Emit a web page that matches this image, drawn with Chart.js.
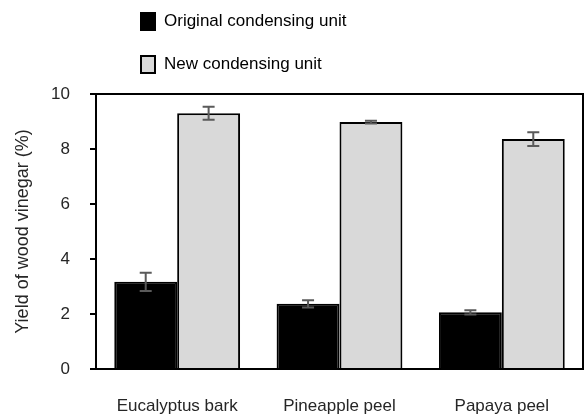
<!DOCTYPE html>
<html>
<head>
<meta charset="utf-8">
<script src="https://cdn.jsdelivr.net/npm/chart.js@4"></script>
<style>
  html, body { margin: 0; padding: 0; background: #fff; }
  #wrap { position: relative; width: 586px; height: 420px; }
  #legend { position: absolute; left: 140px; top: 9px; font-family: "Liberation Sans", Arial, sans-serif; font-size: 17px; color: #000; }
  .item { display: flex; align-items: center; height: 24px; margin-bottom: 19px; }
  .sw { width: 12px; height: 15px; border: 2px solid #000; margin-right: 8px; box-sizing: content-box; }
</style>
</head>
<body>
<div id="wrap">
  <canvas id="c" width="586" height="420"></canvas>
  <div id="legend"></div>
</div>
<script>
const categories = ["Eucalyptus bark", "Pineapple peel", "Papaya peel"];
const seriesNames = ["Original condensing unit", "New condensing unit"];
const originalValues = [3.17, 2.37, 2.06];
const originalErrors = [0.33, 0.13, 0.08];
const newValues = [9.30, 8.98, 8.36];
const newErrors = [0.24, 0.05, 0.25];
const yTicks = [0, 2, 4, 6, 8, 10];

const colors = ["#000000", "#d9d9d9"];
const FONT = "'Liberation Sans', Arial, sans-serif";

// HTML legend
const lg = document.getElementById('legend');
seriesNames.forEach((n, i) => {
  const d = document.createElement('div');
  d.className = 'item';
  const s = document.createElement('span');
  s.className = 'sw';
  s.style.background = colors[i];
  d.appendChild(s);
  const t = document.createElement('span');
  t.textContent = n;
  d.appendChild(t);
  lg.appendChild(d);
});

const errorBars = {
  id: 'errorBars',
  afterDatasetsDraw(chart) {
    const ctx = chart.ctx;
    const y = chart.scales.y;
    ctx.save();
    ctx.strokeStyle = '#5a5a5a';
    ctx.lineWidth = 2;
    chart.data.datasets.forEach((ds, di) => {
      const meta = chart.getDatasetMeta(di);
      meta.data.forEach((bar, i) => {
        const v = ds.data[i], e = ds.errors[i];
        const x = bar.x;
        const yt = y.getPixelForValue(v + e);
        const yb = y.getPixelForValue(v - e);
        const cap = 6;
        ctx.beginPath();
        ctx.moveTo(x, yt); ctx.lineTo(x, yb);
        ctx.moveTo(x - cap, yt); ctx.lineTo(x + cap, yt);
        ctx.moveTo(x - cap, yb); ctx.lineTo(x + cap, yb);
        ctx.stroke();
      });
    });
    ctx.restore();
  }
};

const frame = {
  id: 'frame',
  afterDraw(chart) {
    const a = chart.chartArea, ctx = chart.ctx;
    ctx.save();
    ctx.strokeStyle = '#000';
    ctx.lineWidth = 2;
    ctx.strokeRect(a.left, a.top, a.right - a.left, a.bottom - a.top);
    ctx.restore();
  }
};

new Chart(document.getElementById('c'), {
  type: 'bar',
  data: {
    labels: categories,
    datasets: [
      { label: seriesNames[0], data: originalValues, errors: originalErrors, backgroundColor: colors[0], borderColor: '#000', borderWidth: 2 },
      { label: seriesNames[1], data: newValues, errors: newErrors, backgroundColor: colors[1], borderColor: '#000', borderWidth: 2 }
    ]
  },
  options: {
    responsive: false,
    animation: false,
    layout: { padding: { top: 94, right: 3, left: 0, bottom: 0 } },
    plugins: { legend: { display: false }, tooltip: { enabled: false } },
    datasets: { bar: { categoryPercentage: 0.775, barPercentage: 1.0 } },
    scales: {
      x: {
        grid: { display: false, drawTicks: false },
        border: { display: true, color: '#000', width: 2 },
        ticks: { font: { family: FONT, size: 17 }, color: '#262626', padding: 27 },
        afterFit(s) { s.height = 51; }
      },
      y: {
        min: 0, max: 10,
        afterBuildTicks(s) { s.ticks = yTicks.map(v => ({ value: v })); },
        grid: { display: true, drawOnChartArea: false, drawTicks: true, tickLength: 6, color: '#000', lineWidth: 2 },
        border: { display: true, color: '#000', width: 2 },
        ticks: { font: { family: FONT, size: 17 }, color: '#262626', padding: 20 },
        title: { display: true, text: 'Yield of wood vinegar (%)', font: { family: FONT, size: 18 }, color: '#262626', padding: { top: 12, bottom: 0 } },
        afterFit(s) { s.width = 96; }
      }
    }
  },
  plugins: [errorBars, frame]
});
</script>
</body>
</html>
